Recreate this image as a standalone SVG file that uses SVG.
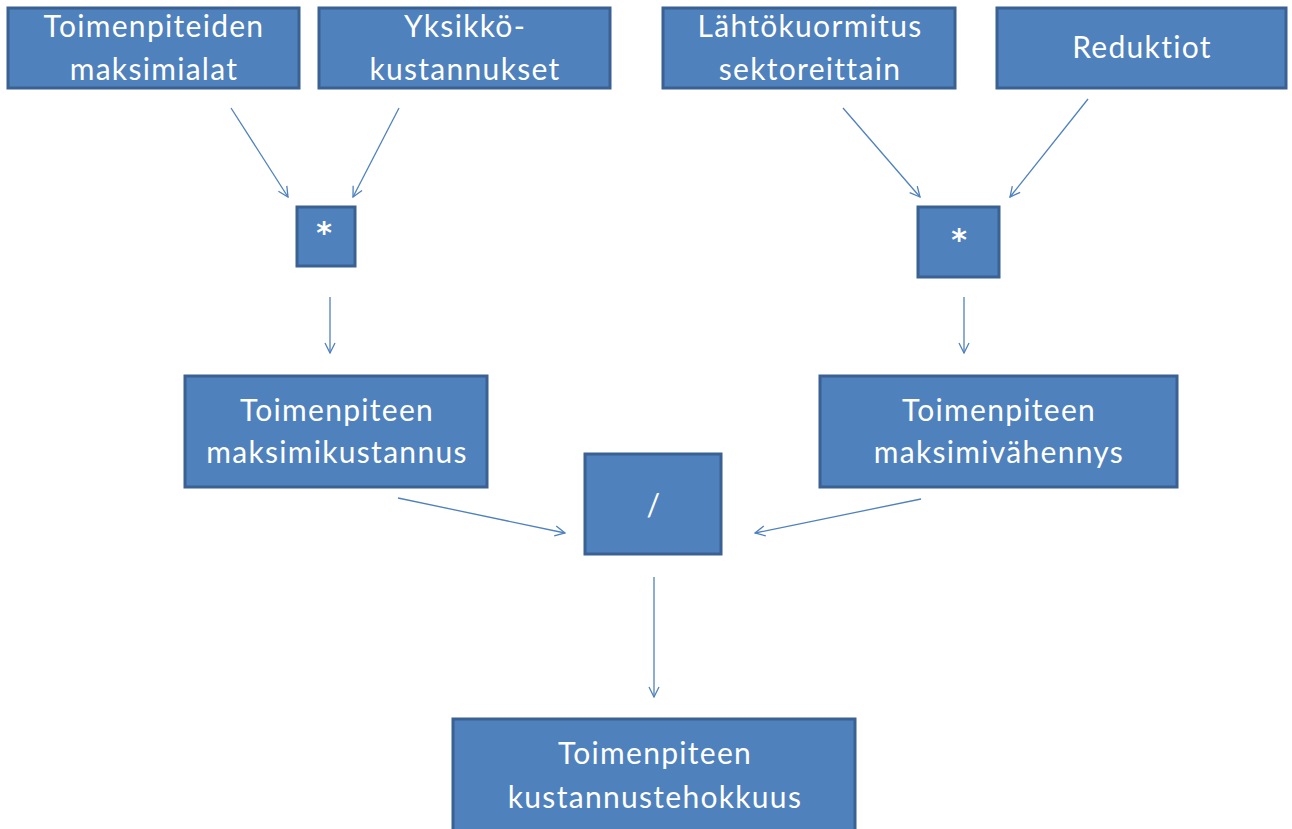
<svg xmlns="http://www.w3.org/2000/svg" width="1292" height="829" viewBox="0 0 1292 829">
<style>
.box{fill:#4F81BD;stroke:#3A6192;stroke-width:3}
.t{font-family:Lato,"Open Sans","Liberation Sans",sans-serif;font-size:30px;letter-spacing:1.3px;fill:#FFFFFF;text-anchor:middle}
.s{font-family:"DejaVu Sans","Liberation Sans",sans-serif;font-size:30px;font-weight:bold;fill:#FFFFFF;text-anchor:middle}
.c{stroke:#4F81BD;stroke-width:1.3;fill:none;marker-end:url(#ah)}
</style>
<defs>
<marker id="ah" viewBox="0 0 12 12" refX="11" refY="6" markerWidth="12" markerHeight="12" markerUnits="userSpaceOnUse" orient="auto">
<path d="M1,1 L11,6 L1,11" fill="none" stroke="#4F81BD" stroke-width="1.3"/>
</marker>
</defs>
<rect width="1292" height="829" fill="#FFFFFF"/>
<g id="connectors">
<line class="c" x1="231" y1="108" x2="288" y2="197"/>
<line class="c" x1="399" y1="108" x2="353" y2="197"/>
<line class="c" x1="843" y1="108" x2="920" y2="197"/>
<line class="c" x1="1088" y1="99" x2="1010" y2="197"/>
<line class="c" x1="330" y1="297" x2="330" y2="353"/>
<line class="c" x1="964" y1="297" x2="964" y2="353"/>
<line class="c" x1="398" y1="498" x2="565" y2="533"/>
<line class="c" x1="921" y1="499" x2="755" y2="533"/>
<line class="c" x1="654" y1="577" x2="654" y2="697"/>
</g>
<g id="n1"><rect class="box" x="8" y="8" width="291" height="80"/><text class="t" x="154" y="37">Toimenpiteiden</text><text class="t" x="154" y="80">maksimialat</text></g>
<g id="n2"><rect class="box" x="319" y="8" width="291" height="80"/><text class="t" x="465" y="37">Yksikkö-</text><text class="t" x="465" y="80">kustannukset</text></g>
<g id="n3"><rect class="box" x="663" y="8" width="292" height="80"/><text class="t" x="810" y="37">Lähtökuormitus</text><text class="t" x="810" y="80">sektoreittain</text></g>
<g id="n4"><rect class="box" x="997" y="8" width="289" height="80"/><text class="t" x="1142" y="58">Reduktiot</text></g>
<g id="n5"><rect class="box" x="297" y="207" width="58" height="59"/><text class="s" x="324" y="243">*</text></g>
<g id="n6"><rect class="box" x="918" y="207" width="81" height="70"/><text class="s" x="959" y="250">*</text></g>
<g id="n7"><rect class="box" x="185" y="376" width="302" height="111"/><text class="t" x="337" y="421">Toimenpiteen</text><text class="t" x="337" y="463">maksimikustannus</text></g>
<g id="n8"><rect class="box" x="820" y="376" width="357" height="111"/><text class="t" x="999" y="421">Toimenpiteen</text><text class="t" x="999" y="463">maksimivähennys</text></g>
<g id="n9"><rect class="box" x="585" y="454" width="136" height="100"/><text class="t" x="654" y="516">/</text></g>
<g id="n10"><rect class="box" x="453" y="719" width="402" height="120"/><text class="t" x="655" y="764">Toimenpiteen</text><text class="t" x="655" y="808">kustannustehokkuus</text></g>
</svg>
